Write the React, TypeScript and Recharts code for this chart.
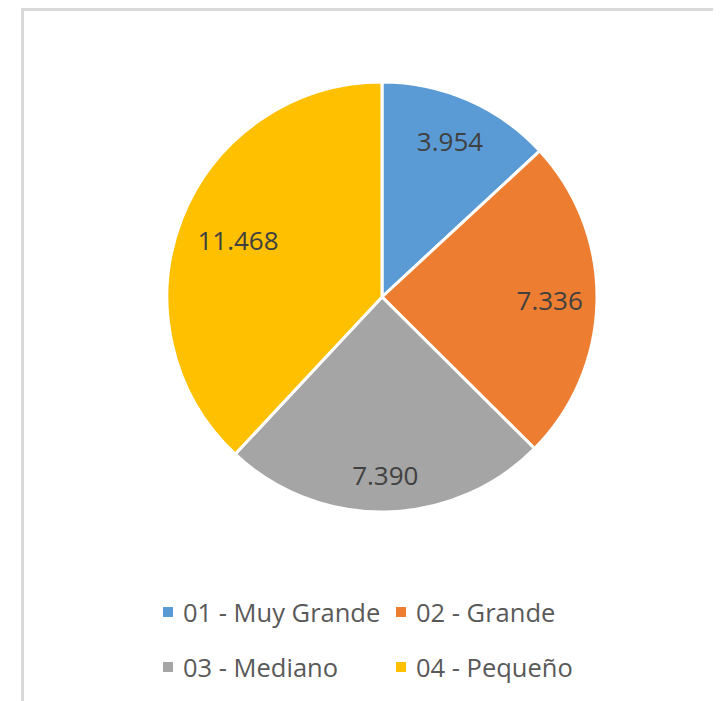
import React from "react";
import { PieChart, Pie, Cell, Legend } from "recharts";

const categories = ["01 - Muy Grande", "02 - Grande", "03 - Mediano", "04 - Pequeño"];
const values = [3.954, 7.336, 7.39, 11.468];
const valueLabels = ["3.954", "7.336", "7.390", "11.468"];
const colors = ["#5B9BD5", "#ED7D31", "#A5A5A5", "#FFC000"];

const data = categories.map((name, i) => ({ name, value: values[i], label: valueLabels[i] }));

const FONT = "'Open Sans', 'Noto Sans', sans-serif";
const RAD = Math.PI / 180;
const labelRadii = [0.79, 0.78, 0.83, 0.72];

const renderLabel = (props: any) => {
  const { cx, cy, midAngle, outerRadius, index } = props;
  const r = outerRadius * labelRadii[index];
  const x = cx + r * Math.cos(-midAngle * RAD);
  const y = cy + r * Math.sin(-midAngle * RAD);
  return (
    <text
      x={x}
      y={y}
      fill="#404040"
      fontSize={26}
      fontFamily={FONT}
      textAnchor="middle"
      dominantBaseline="central"
    >
      {valueLabels[index]}
    </text>
  );
};

const renderLegend = () => (
  <div
    style={{
      display: "grid",
      gridTemplateColumns: "233px 220px",
      gridAutoRows: "55px",
      fontFamily: FONT,
      fontSize: 25.5,
      color: "#595959",
    }}
  >
    {categories.map((c, i) => (
      <div key={c} style={{ display: "flex", alignItems: "center", height: 55, whiteSpace: "nowrap" }}>
        <span
          style={{
            display: "inline-block",
            width: 10,
            height: 10,
            background: colors[i],
            marginRight: 10,
          }}
        />
        <span>{c}</span>
      </div>
    ))}
  </div>
);

export default function App() {
  return (
    <div
      style={{
        marginLeft: 13,
        borderTop: "3px solid #d9d9d9",
        borderLeft: "3px solid #d9d9d9",
        width: 697,
        height: 690,
        background: "#fff",
      }}
    >
      <PieChart width={697} height={690}>
        <Pie
          data={data}
          dataKey="value"
          nameKey="name"
          cx={353}
          cy={281}
          outerRadius={215}
          startAngle={90}
          endAngle={-270}
          stroke="#ffffff"
          strokeWidth={3}
          label={renderLabel}
          labelLine={false}
          isAnimationActive={false}
        >
          {data.map((d, i) => (
            <Cell key={d.name} fill={colors[i]} />
          ))}
        </Pie>
        <Legend
          content={renderLegend}
          wrapperStyle={{ position: "absolute", left: 139, top: 573, width: 460 }}
        />
      </PieChart>
    </div>
  );
}
